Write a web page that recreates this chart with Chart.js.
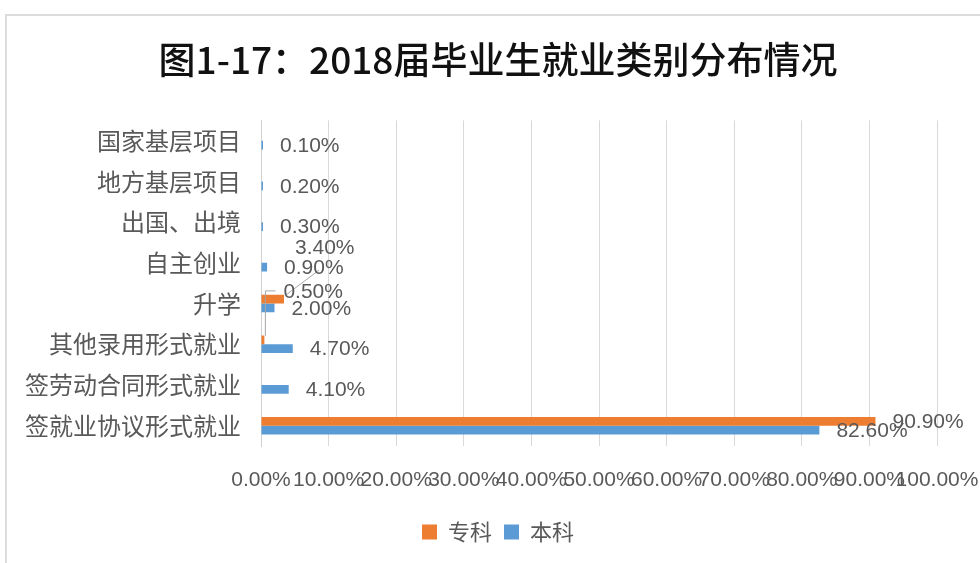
<!DOCTYPE html>
<html>
<head>
<meta charset="utf-8">
<script src="https://cdn.jsdelivr.net/npm/chart.js@4.4.0/dist/chart.umd.min.js"></script>
<style>
    html, body { margin: 0; padding: 0; background: #fff; overflow: hidden; }
    #wrap { position: relative; width: 980px; height: 563px; }
    #frame {
        position: absolute; left: 5px; top: 14px; width: 1000px; height: 600px;
        border: 2px solid #dcdcdc; box-sizing: border-box;
    }
    #chart { position: absolute; left: 0; top: 0; }
</style>
</head>
<body>
<div id="wrap">
    <div id="frame"></div>
    <canvas id="chart" width="980" height="563"></canvas>
</div>
<script>
// Chart data
const titleText = '图1-17：2018届毕业生就业类别分布情况';
const categories = ['国家基层项目', '地方基层项目', '出国、出境', '自主创业', '升学', '其他录用形式就业', '签劳动合同形式就业', '签就业协议形式就业'];
const seriesNames = ['专科', '本科'];
const zhuanke = [null, null, null, null, 3.4, 0.5, null, 90.9];
const benke = [0.1, 0.2, 0.3, 0.9, 2.0, 4.7, 4.1, 82.6];
const xTicks = [0, 10, 20, 30, 40, 50, 60, 70, 80, 90, 100];

const textGray = '#595959';
const numFont = '"Liberation Sans", Arial, sans-serif';
const cjkFont = '"Noto Sans CJK SC", sans-serif';

// labels that were dragged away from their bars, with a leader line
const movedLabels = {
    '0-4': { dx: -6, dy: -52, leader: 'diag' },
    '0-5': { dx: 2, dy: -49, leader: 'elbow' }
};

function pct(v) {
    return Number(v).toFixed(2) + '%';
}

const dataLabelPlugin = {
    id: 'dataLabels',
    afterDatasetsDraw(chart) {
        const ctx = chart.ctx;
        ctx.save();
        ctx.font = '21px ' + numFont;
        ctx.fillStyle = textGray;
        ctx.textAlign = 'left';
        ctx.textBaseline = 'middle';
        chart.data.datasets.forEach((ds, i) => {
            const meta = chart.getDatasetMeta(i);
            meta.data.forEach((bar, j) => {
                const v = ds.data[j];
                if (v === null || v === undefined) return;
                let lx = bar.x + 17;
                let ly = bar.y + 1;
                const mv = movedLabels[i + '-' + j];
                if (mv) {
                    lx += mv.dx;
                    ly += mv.dy;
                    ctx.strokeStyle = '#a6a6a6';
                    ctx.lineWidth = 1;
                    ctx.beginPath();
                    if (mv.leader === 'diag') {
                        ctx.moveTo(lx + 24, ly + 22);
                        ctx.lineTo(bar.x + 3, bar.y - 5);
                    } else {
                        ctx.moveTo(lx - 8, ly - 1);
                        ctx.lineTo(bar.x + 1, ly - 1);
                        ctx.lineTo(bar.x + 1, bar.y - 4);
                    }
                    ctx.stroke();
                }
                ctx.fillText(pct(v), lx, ly);
            });
        });
        ctx.restore();
    }
};

const ctx = document.getElementById('chart');

new Chart(ctx, {
    type: 'bar',
    data: {
        labels: categories,
        datasets: [{
            label: seriesNames[0],
            data: zhuanke,
            backgroundColor: '#ED7D31',
            borderWidth: 0
        }, {
            label: seriesNames[1],
            data: benke,
            backgroundColor: '#5B9BD5',
            borderWidth: 0,
            minBarLength: 2
        }]
    },
    options: {
        indexAxis: 'y',
        responsive: false,
        animation: false,
        devicePixelRatio: 1,
        categoryPercentage: 0.43,
        barPercentage: 1,
        layout: {
            padding: { left: 16, right: 0, top: 0, bottom: 10 }
        },
        scales: {
            x: {
                min: 0,
                max: 100,
                afterBuildTicks: function(scale) {
                    scale.ticks = xTicks.map(v => ({ value: v }));
                },
                afterFit: function(scale) {
                    scale.height = 63;
                    scale.paddingLeft = 0;
                    scale.paddingRight = 43;
                },
                grid: {
                    color: '#d9d9d9',
                    lineWidth: 1,
                    drawTicks: false
                },
                border: { display: false },
                ticks: {
                    autoSkip: false,
                    maxRotation: 0,
                    padding: 22,
                    color: textGray,
                    font: { family: numFont, size: 21 },
                    callback: function(value) {
                        return pct(value);
                    }
                }
            },
            y: {
                afterFit: function(scale) {
                    scale.width = 245;
                },
                grid: { display: false, drawTicks: false },
                border: { display: true, color: '#d0d0d0', width: 1 },
                ticks: {
                    padding: 20,
                    color: textGray,
                    font: { family: cjkFont, size: 24 }
                }
            }
        },
        plugins: {
            title: {
                display: true,
                text: titleText,
                color: '#111',
                font: { family: cjkFont, size: 37, weight: '500' },
                padding: { top: 38, bottom: 38 }
            },
            legend: {
                position: 'bottom',
                labels: {
                    boxWidth: 15,
                    boxHeight: 15,
                    padding: 12,
                    color: textGray,
                    font: { family: cjkFont, size: 22 }
                }
            },
            tooltip: { enabled: false }
        }
    },
    plugins: [dataLabelPlugin]
});
</script>
</body>
</html>
